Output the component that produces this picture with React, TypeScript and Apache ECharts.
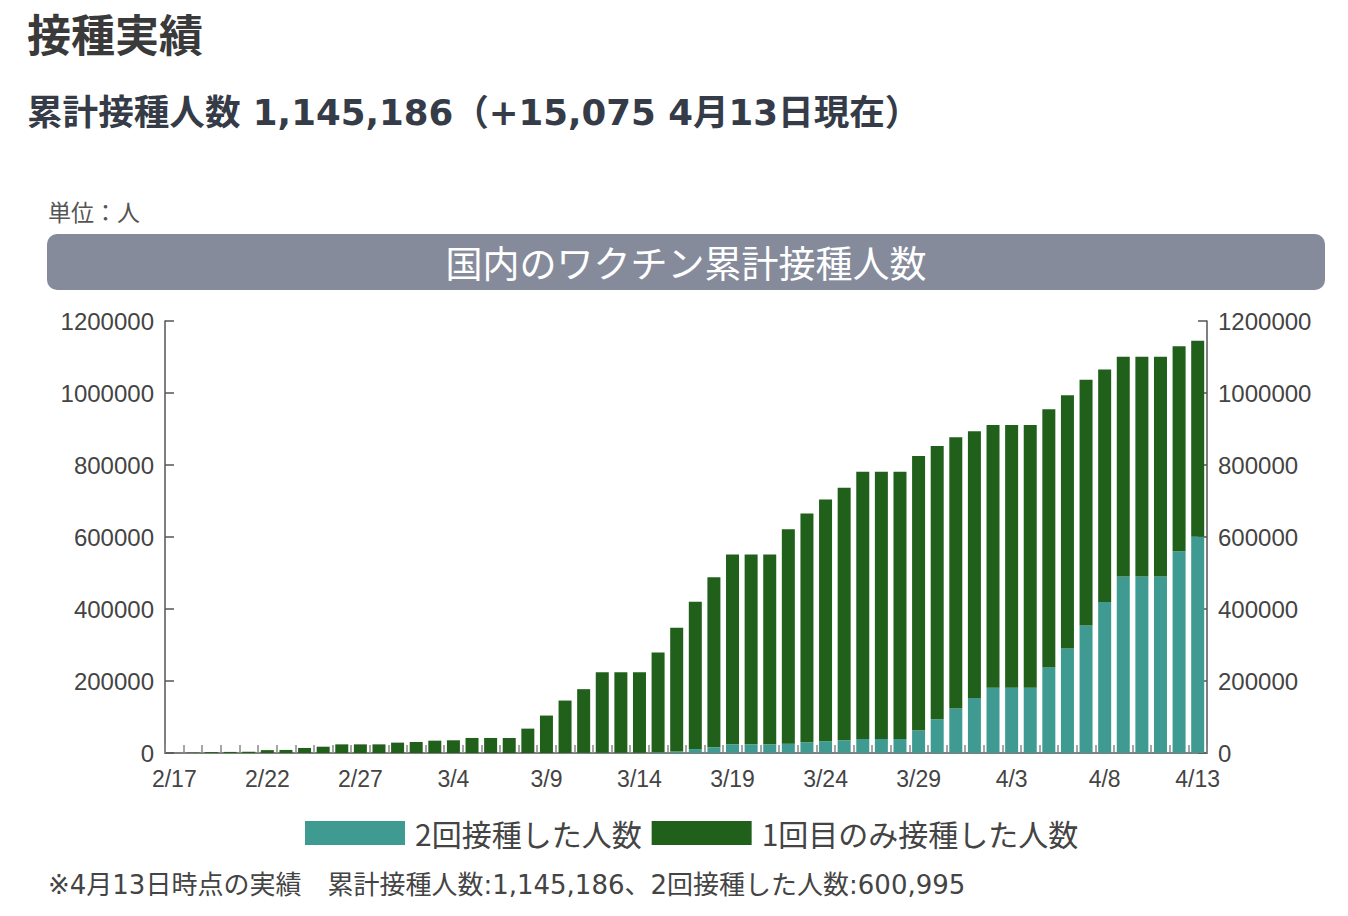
import React, { useEffect, useRef } from "react";
import * as echarts from "echarts";

const dates = [
  "2/17", "2/18", "2/19", "2/20", "2/21", "2/22", "2/23", "2/24", "2/25", "2/26", "2/27", "2/28",
  "3/1", "3/2", "3/3", "3/4", "3/5", "3/6", "3/7", "3/8", "3/9", "3/10", "3/11", "3/12", "3/13",
  "3/14", "3/15", "3/16", "3/17", "3/18", "3/19", "3/20", "3/21", "3/22", "3/23", "3/24", "3/25",
  "3/26", "3/27", "3/28", "3/29", "3/30", "3/31", "4/1", "4/2", "4/3", "4/4", "4/5", "4/6", "4/7",
  "4/8", "4/9", "4/10", "4/11", "4/12", "4/13",
];

// cumulative total vaccinated (at least one dose)
const totalVaccinated = [
  125, 1000, 2500, 3000, 3500, 8000, 8500, 14000, 17500, 24000, 24000, 24000,
  28800, 30600, 34300, 35300, 41800, 41800, 41800, 67700, 104000, 145700, 177300, 224600, 224600,
  224600, 279400, 348000, 420400, 488100, 551300, 551300, 551300, 621700, 665400, 704400, 736900,
  781400, 781400, 781400, 825000, 852900, 877000, 893700, 911300, 911300, 911300, 955000, 994000, 1036600,
  1065500, 1100700, 1100700, 1100700, 1130111, 1145186,
];

// cumulative second dose
const secondDose = [
  0, 0, 0, 0, 0, 0, 0, 0, 0, 0, 0, 0,
  0, 0, 0, 0, 0, 0, 0, 0, 0, 200, 500, 900, 900,
  900, 2000, 4000, 11000, 15800, 24100, 24100, 24100, 26000, 29700, 32500, 35300,
  39000, 39000, 39000, 62200, 93700, 123500, 153100, 181000, 181000, 181000, 237600, 290500, 354500,
  419500, 490000, 490000, 490000, 560500, 600995,
];

const firstOnly = totalVaccinated.map((t, i) => t - secondDose[i]);

const seriesNames = ["2回接種した人数", "1回目のみ接種した人数"];
const yTicks = { min: 0, max: 1200000, interval: 200000 };

const JP = "'Noto Sans CJK JP', 'Noto Sans', sans-serif";
const NUM = "'Liberation Sans', 'Noto Sans CJK JP', sans-serif";
const WIDE = "'DejaVu Sans', 'Noto Sans CJK JP', sans-serif";

export default function App() {
  const ref = useRef<HTMLDivElement>(null);

  useEffect(() => {
    if (!ref.current) return;
    const chart = echarts.init(ref.current, undefined, { renderer: "svg" });

    const yAxisCommon = (position: "left" | "right") => ({
      type: "value",
      position,
      min: yTicks.min,
      max: yTicks.max,
      interval: yTicks.interval,
      splitLine: { show: false },
      axisLine: { show: true, lineStyle: { color: "#555", width: 1.5 } },
      axisTick: { show: true, inside: true, length: 9, lineStyle: { color: "#555", width: 1.5 } },
      axisLabel: {
        fontSize: 24,
        color: "#444",
        fontFamily: NUM,
        margin: 11,
        formatter: (v: number) => String(v),
      },
    });

    chart.setOption({
      animation: false,
      backgroundColor: "#ffffff",
      grid: { left: 165, right: 141, top: 321, bottom: 163, containLabel: false },
      legend: {
        data: seriesNames,
        left: 300,
        top: 813,
        icon: "rect",
        itemWidth: 100,
        itemHeight: 24,
        itemGap: 10,
        textStyle: { fontSize: 30, color: "#444", fontFamily: JP, padding: [0, 0, 0, 5] },
      },
      xAxis: {
        type: "category",
        data: dates,
        boundaryGap: true,
        axisLine: { show: true, lineStyle: { color: "#555", width: 1.5 } },
        axisTick: {
          show: true,
          inside: true,
          interval: 0,
          length: 8,
          lineStyle: { color: "#888", width: 1.5 },
        },
        axisLabel: { interval: 4, fontSize: 23, color: "#444", fontFamily: NUM, margin: 14 },
      },
      yAxis: [yAxisCommon("left"), yAxisCommon("right")],
      series: [
        {
          name: seriesNames[0],
          type: "bar",
          stack: "total",
          barWidth: 13,
          itemStyle: { color: "#3f9b92" },
          data: secondDose,
        },
        {
          name: seriesNames[1],
          type: "bar",
          stack: "total",
          barWidth: 13,
          itemStyle: { color: "#20601b" },
          data: firstOnly,
        },
      ],
      graphic: [
        {
          type: "text",
          left: 27,
          top: 11,
          style: { text: "接種実績", font: `bold 44px ${JP}`, fill: "#3a3a3a" },
        },
        {
          type: "text",
          left: 27,
          top: 95,
          style: {
            text: "累計接種人数 1,145,186（+15,075 4月13日現在）",
            font: `bold 35.6px ${WIDE}`,
            fill: "#363b48",
          },
        },
        {
          type: "text",
          left: 48,
          top: 199,
          style: { text: "単位：人", font: `23px ${JP}`, fill: "#555" },
        },
        {
          type: "rect",
          shape: { x: 47, y: 234, width: 1278, height: 56, r: 10 },
          style: { fill: "#868b9c" },
        },
        {
          type: "text",
          x: 686,
          y: 262,
          style: {
            text: "国内のワクチン累計接種人数",
            font: `37px ${JP}`,
            fill: "#ffffff",
            align: "center",
            verticalAlign: "middle",
          },
        },
        {
          type: "text",
          left: 48,
          top: 872,
          style: {
            text: "※4月13日時点の実績　累計接種人数:1,145,186、2回接種した人数:600,995",
            font: `26px ${WIDE}`,
            fill: "#444",
          },
        },
      ],
    });

    return () => chart.dispose();
  }, []);

  return (
    <div
      ref={ref}
      style={{ position: "fixed", left: 0, top: 0, width: 1348, height: 916 }}
    />
  );
}
